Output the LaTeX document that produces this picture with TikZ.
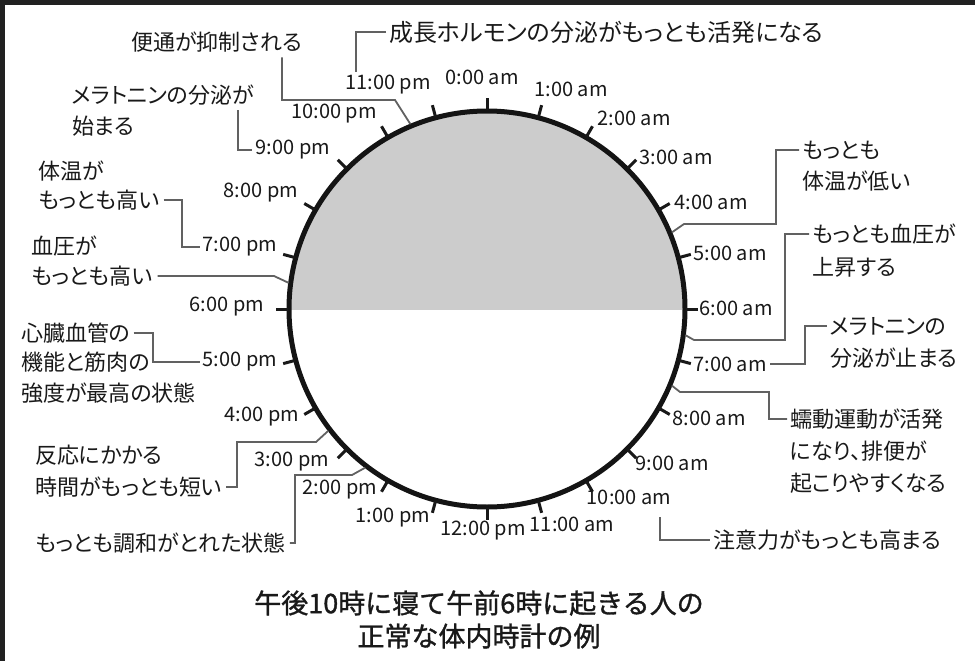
\documentclass[tikz,border=0pt]{standalone}
\usepackage{fontspec}
\setmainfont{Noto Sans CJK JP}
\newfontfamily\jpp{Noto Sans CJK JP}[RawFeature=+palt]
\newfontfamily\capfont{Noto Sans CJK JP}[FakeBold=1.2]
\usetikzlibrary{calc}
\begin{document}
\begin{tikzpicture}[x=1pt,y=-1pt,
  jp/.style={inner sep=0pt, anchor=west, text=black!90, font=\jpp\fontsize{22}{22}\selectfont},
  hr/.style={inner sep=0pt, text=black!90, font=\fontsize{20}{20}\selectfont},
  captxt/.style={inner sep=0pt, text=black!90, font=\capfont\fontsize{27}{27}\selectfont},
  conn/.style={draw=black!62, line width=1.8pt},
  tickmark/.style={line width=3pt, draw=black!90},
  rim/.style={line width=5pt, draw=black!92},
]
\useasboundingbox (0,0) rectangle (975,661);
\fill[black!87] (0,0) rectangle (975,5);
\fill[black!87] (0,0) rectangle (5,661);

\coordinate (O) at (487,309);
\begin{scope}
\clip (280,100) rectangle (700,309);
\fill[black!20] (O) circle[radius=198pt];
\end{scope}
\draw[rim] (O) circle[radius=198pt];
\foreach \h in {0,...,23}
  \draw[tickmark] ($(O)+(\h*15-90:199)$) -- ($(O)+(\h*15-90:211)$);

% half-hour points on the rim
\foreach \n/\c in {p2230/22.5, p1830/18.5, p1530/15.5, p1430/14.5, p0430/4.5, p0630/6.5, p0730/7.5}
  \coordinate (\n) at ($(O)+(\c*15-90:200)$);

% hour labels
\node[hr] (h0)  at (482,77)  {0:00 am};
\node[hr] (h1)  at (571,89)  {1:00 am};
\node[hr] (h2)  at (634,118) {2:00 am};
\node[hr] (h3)  at (676,157) {3:00 am};
\node[hr] (h4)  at (711,202) {4:00 am};
\node[hr] (h5)  at (730,253) {5:00 am};
\node[hr] (h6)  at (736,308) {6:00 am};
\node[hr] (h7)  at (730,364) {7:00 am};
\node[hr] (h8)  at (709,418) {8:00 am};
\node[hr] (h9)  at (672,463) {9:00 am};
\node[hr] (h10) at (629,497) {10:00 am};
\node[hr] (h11) at (572,524) {11:00 am};
\node[hr] (h12) at (483,531) {12:00 pm};
\node[hr] (h13) at (393,518) {1:00 pm};
\node[hr] (h14) at (340,490) {2:00 pm};
\node[hr] (h15) at (292,462) {3:00 pm};
\node[hr] (h16) at (262,417) {4:00 pm};
\node[hr] (h17) at (240,362) {5:00 pm};
\node[hr] (h18) at (227,307) {6:00 pm};
\node[hr] (h19) at (240,247) {7:00 pm};
\node[hr] (h20) at (261,193) {8:00 pm};
\node[hr] (h21) at (293,150) {9:00 pm};
\node[hr] (h22) at (334,114) {10:00 pm};
\node[hr] (h23) at (388,85)  {11:00 pm};

% Japanese labels
\node[jp, font=\jpp\fontsize{24}{24}\selectfont] (g1) at (389,32) {成長ホルモンの分泌がもっとも活発になる};
\node[jp] (b1) at (131,42) {便通が抑制される};
\node[jp] (m1) at (72,95)  {メラトニンの分泌が};
\node[jp] (m2) at (72,126) {始まる};
\node[jp] (t1) at (38,171) {体温が};
\node[jp] (t2) at (38,200) {もっとも高い};
\node[jp] (k1) at (31,246) {血圧が};
\node[jp] (k2) at (31,276) {もっとも高い};
\node[jp] (s1) at (21,333) {心臓血管の};
\node[jp] (s2) at (21,362) {機能と筋肉の};
\node[jp] (s3) at (21,393) {強度が最高の状態};
\node[jp] (a1) at (35,455) {反応にかかる};
\node[jp] (a2) at (35,487) {時間がもっとも短い};
\node[jp] (w1) at (35,543) {もっとも調和がとれた状態};
\node[jp] (r1) at (802,150) {もっとも};
\node[jp] (r2) at (802,181) {体温が低い};
\node[jp] (u1) at (812,234) {もっとも血圧が};
\node[jp] (u2) at (812,267) {上昇する};
\node[jp] (n1) at (830,326) {メラトニンの};
\node[jp] (n2) at (830,358) {分泌が止まる};
\node[jp] (z1) at (790,419) {蠕動運動が活発};
\node[jp] (z2) at (790,451) {になり、排便が};
\node[jp] (z3) at (790,483) {起こりやすくなる};
\node[jp] (q1) at (713,540) {注意力がもっとも高まる};

\node[captxt] (c1) at (479,603) {午後10時に寝て午前6時に起きる人の};
\node[captxt] (c2) at (479,636) {正常な体内時計の例};

% connectors
\coordinate (g1e) at (356,72);
\coordinate (q0) at (660,517);
\draw[conn] ([xshift=-3pt]g1.west) -| (g1e);
\draw[conn] ($(b1.south west)+(151,5)$) |- (395,100) -- (p2230);
\draw[conn] ($(m1.south west)+(166,5)$) |- ([xshift=-4pt]h21.west);
\draw[conn] ([xshift=4pt]t2.east) -| (182,247) -- ([xshift=-3pt]h19.west);
\draw[conn] ([xshift=5pt]k2.east) -- (274,276) -- (p1830);
\draw[conn] ([xshift=3pt]s1.east) -| (153,362) -- ([xshift=-3pt]h17.west);
\draw[conn] ([xshift=4pt]a2.east) -| (237,442) -- (316,442) -- (p1530);
\draw[conn] ([xshift=4pt]w1.east) -| (295,475) -- (352,475) -- (p1430);
\draw[conn] ([xshift=-3pt]r1.west) -| (776,224) -- (684,224) -- (p0430);
\draw[conn] ([xshift=-3pt]u1.west) -| (785,340) -- (694,340) -- (p0630);
\draw[conn] ([xshift=-3pt]n1.west) -| (805,364) -- ([xshift=3pt]h7.east);
\draw[conn] (p0730) -- (680,392) -- (769,392) |- ([xshift=-3pt]z1.west);
\draw[conn] (q0) |- ([xshift=-3pt]q1.west);
\end{tikzpicture}
\end{document}
